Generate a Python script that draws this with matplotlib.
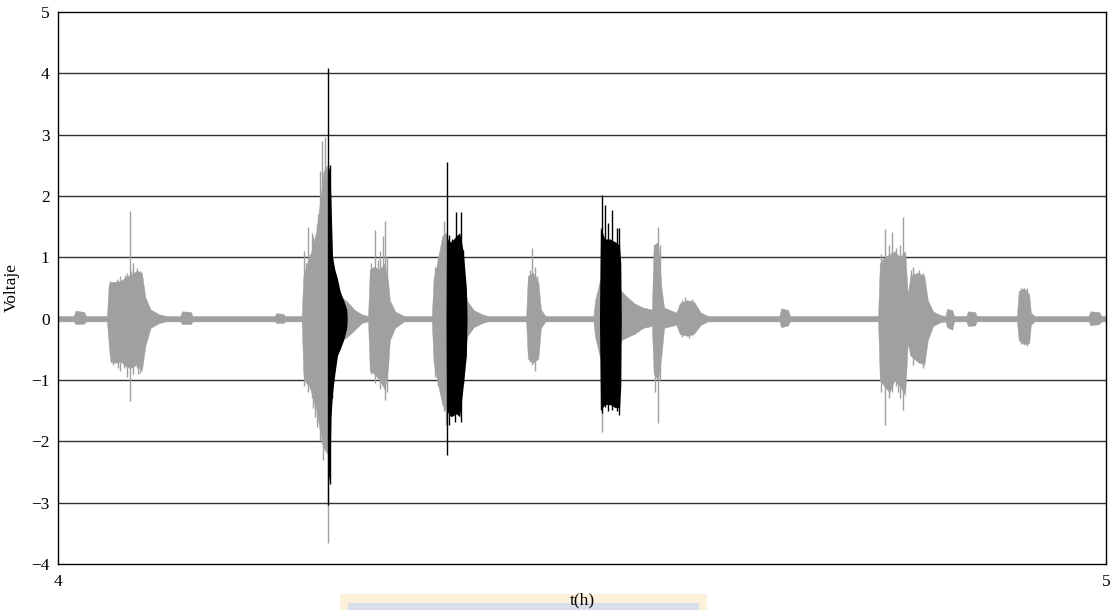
import matplotlib
matplotlib.use("Agg")
import matplotlib.pyplot as plt
import numpy as np
from matplotlib.patches import Rectangle

# Signal envelope, minutes after 4 h: (time, upper, lower) in volts
grey_min = [0.0, 0.9, 1.0, 1.5, 1.6, 2.8, 2.9, 3.0, 3.3, 3.6, 3.9, 4.2, 4.5, 4.8, 5.0, 5.3, 5.8, 6.2,
            7.0, 7.1, 7.6, 7.7, 12.4, 12.5, 12.9, 13.0, 13.95, 14.05, 14.2, 14.4, 14.6, 14.8, 15.0,
            15.2, 15.4, 15.6, 16.0, 16.55, 17.0, 17.4, 17.75, 17.85, 18.1, 18.4, 18.7, 18.9, 19.0,
            19.3, 19.8, 21.4, 21.5, 21.7, 22.0, 22.2, 22.8, 23.45, 23.8, 24.3, 24.6, 26.8, 26.9,
            27.2, 27.5, 27.65, 27.9, 30.65, 30.75, 31.0, 31.5, 32.25, 32.6, 33.0, 33.5, 34.0, 34.1,
            34.35, 34.55, 34.7, 35.4, 35.6, 36.0, 36.4, 36.8, 37.2, 41.3, 41.4, 41.8, 41.9, 46.95,
            47.05, 47.3, 47.6, 47.9, 48.2, 48.5, 48.65, 48.8, 49.2, 49.6, 49.8, 50.1, 50.5, 50.8,
            50.9, 51.2, 51.3, 52.0, 52.1, 52.5, 52.6, 54.9, 55.0, 55.3, 55.6, 55.7, 55.9, 59.0,
            59.1, 59.6, 59.75, 60.0]
grey_hi = [0.045, 0.045, 0.13, 0.11, 0.045, 0.045, 0.55, 0.6, 0.6, 0.62, 0.68, 0.72, 0.78, 0.75, 0.35,
           0.15, 0.07, 0.045, 0.045, 0.12, 0.11, 0.045, 0.045, 0.09, 0.08, 0.045, 0.045, 0.7, 0.85,
           1.0, 1.2, 1.45, 1.9, 2.4, 2.5, 0.8, 0.4, 0.28, 0.14, 0.07, 0.045, 0.8, 0.85, 0.8, 0.9,
           0.6, 0.3, 0.12, 0.045, 0.045, 0.65, 0.9, 1.35, 1.4, 1.0, 0.28, 0.14, 0.07, 0.045, 0.045,
           0.7, 0.75, 0.6, 0.15, 0.045, 0.045, 0.3, 0.6, 0.9, 0.45, 0.35, 0.25, 0.18, 0.15, 1.2,
           1.25, 0.5, 0.18, 0.1, 0.25, 0.3, 0.28, 0.1, 0.045, 0.045, 0.17, 0.14, 0.045, 0.045, 0.9,
           1.0, 1.05, 1.1, 1.0, 1.1, 0.4, 0.7, 0.75, 0.7, 0.3, 0.12, 0.06, 0.045, 0.16, 0.14,
           0.045, 0.045, 0.12, 0.11, 0.045, 0.045, 0.45, 0.5, 0.4, 0.1, 0.045, 0.045, 0.12, 0.11,
           0.045, 0.045]
grey_lo = [-0.045, -0.045, -0.09, -0.08, -0.045, -0.045, -0.4, -0.7, -0.72, -0.7, -0.78, -0.8, -0.75,
           -0.85, -0.45, -0.15, -0.07, -0.045, -0.045, -0.09, -0.09, -0.045, -0.045, -0.07, -0.07,
           -0.045, -0.045, -0.9, -1.05, -1.1, -1.3, -1.5, -1.85, -2.1, -2.2, -0.9, -0.4, -0.3,
           -0.18, -0.07, -0.045, -0.85, -0.9, -1.0, -1.15, -0.8, -0.35, -0.15, -0.045, -0.045,
           -0.7, -1.0, -1.4, -1.5, -1.2, -0.28, -0.14, -0.07, -0.045, -0.045, -0.65, -0.72, -0.65,
           -0.15, -0.045, -0.045, -0.3, -0.6, -0.9, -0.35, -0.3, -0.25, -0.15, -0.12, -0.9, -1.0,
           -0.6, -0.15, -0.1, -0.25, -0.28, -0.25, -0.1, -0.045, -0.045, -0.14, -0.11, -0.045,
           -0.045, -1.0, -1.1, -1.2, -1.0, -1.1, -1.25, -0.4, -0.6, -0.7, -0.75, -0.35, -0.12,
           -0.06, -0.045, -0.14, -0.18, -0.045, -0.045, -0.12, -0.11, -0.045, -0.045, -0.35, -0.42,
           -0.4, -0.1, -0.045, -0.045, -0.11, -0.09, -0.045, -0.045]

# Isolated peaks of the grey trace
grey_peak_min = [2.95, 3.0, 3.1, 3.15, 3.25, 3.35, 3.45, 3.55, 3.65, 3.75, 3.85, 3.95, 4.05, 4.12,
                 4.2, 4.3, 4.4, 4.5, 4.6, 4.7, 4.8,
                 14.1, 14.2, 14.3, 14.45, 14.55, 14.6, 14.7, 14.8, 14.9, 15.0, 15.1, 15.2, 15.3,
                 15.45,
                 17.9, 18.0, 18.15, 18.3, 18.45, 18.6, 18.72, 18.85,
                 21.6, 21.75, 21.9, 22.1, 22.2,
                 27.0, 27.14, 27.3, 27.45, 31.12, 34.2, 34.33, 34.45,
                 35.7, 35.9, 36.1, 36.3,
                 47.1, 47.2, 47.35, 47.45, 47.55, 47.65, 47.75, 47.85, 48.0, 48.1, 48.2, 48.3,
                 48.38, 48.85, 48.95, 49.1, 49.3, 49.45, 49.55,
                 55.15, 55.45]
grey_peak_hi = [0.6, 0.62, 0.5, 0.55, 0.6, 0.65, 0.55, 0.7, 0.6, 0.62, 0.72, 0.75, 0.65, 1.75,
                0.78, 0.9, 0.7, 0.82, 0.68, 0.78, 0.6,
                1.1, 0.9, 1.5, 1.05, 1.4, 1.35, 1.2, 1.55, 1.7, 2.4, 2.9, 2.2, 2.96,
                0.0,
                0.9, 0.75, 1.44, 0.95, 1.1, 1.35, 1.6, 1.0,
                0.85, 1.0, 1.1, 1.6, 1.2,
                0.8, 1.15, 0.85, 0.7, 0.5, 1.0, 1.5, 1.2,
                0.3, 0.35, 0.28, 0.32,
                1.05, 0.8, 1.47, 1.0, 1.2, 0.9, 1.41, 1.0, 1.15, 0.85, 1.2, 0.9,
                1.66, 0.8, 0.84, 0.65, 0.8, 0.6, 0.75,
                0.5, 0.5]
grey_peak_lo = [-0.6, -0.45, -0.7, -0.75, -0.6, -0.7, -0.8, -0.85, -0.65, -0.8, -0.7, -0.95, -0.8,
                -1.35, -0.75, -0.9, -0.7, -0.8, -0.9, -0.88, -0.7,
                -1.1, -1.0, -1.2, -1.15, -1.3, -1.45, -1.6, -1.77, -1.6, -2.0, -2.05, -2.3, -1.9,
                -3.66,
                -0.9, -0.8, -1.05, -0.9, -1.15, -1.0, -1.33, -1.2,
                -0.95, -1.1, -1.2, -1.5, -1.73,
                -0.7, -0.75, -0.86, -0.6, -1.84, -1.2, -1.7, -1.0,
                -0.3, -0.25, -0.32, -0.27,
                -1.2, -1.0, -1.73, -1.15, -1.3, -1.0, -1.2, -0.95, -1.1, -1.2, -1.3, -1.0,
                -1.49, -0.6, -0.75, -0.6, -0.72, -0.65, -0.8,
                -0.42, -0.45]

# Highlighted (black) events
black_min = [0.0, 15.44, 15.46, 15.57, 15.63, 15.72, 15.85, 16.0, 16.15, 16.35, 16.53, 16.56,
             22.22, 22.25, 22.5, 22.8, 23.0, 23.2, 23.38, 23.42,
             31.0, 31.05, 31.3, 31.6, 31.9, 32.15, 32.22, 32.25, 60.0]
black_hi = [0, 0, 2.5, 2.4, 1.9, 1.0, 0.8, 0.65, 0.45, 0.3, 0.15, 0,
            0, 1.3, 1.25, 1.35, 1.4, 1.1, 0.5, 0,
            0, 1.5, 1.3, 1.3, 1.25, 1.2, 0.9, 0, 0]
black_lo = [0, 0, -2.7, -2.5, -1.6, -1.2, -0.9, -0.6, -0.5, -0.35, -0.15, 0,
            0, -1.5, -1.6, -1.55, -1.6, -1.1, -0.6, 0,
            0, -1.5, -1.4, -1.4, -1.45, -1.45, -1.1, 0, 0]

black_peak_min = [15.47, 15.55, 15.7, 22.25, 22.38, 22.55, 22.73, 22.79, 22.95, 23.07, 23.2,
                  31.16, 31.32, 31.5, 31.74, 31.9, 32.02, 32.13]
black_peak_hi = [4.09, 2.5, 1.0, 2.56, 1.36, 1.3, 1.2, 1.74, 1.3, 1.74, 1.12,
                 2.02, 1.85, 1.56, 1.77, 1.25, 1.48, 1.48]
black_peak_lo = [-3.04, -2.7, -1.3, -2.22, -1.73, -1.5, -1.69, -1.5, -1.55, -1.69, -1.06,
                 -1.54, -1.44, -1.5, -1.49, -1.44, -1.5, -1.57]

y_ticks = [-4, -3, -2, -1, 0, 1, 2, 3, 4, 5]
x_ticks = [4, 5]

GREY = "#a0a0a0"


def hours(minutes):
    return 4 + np.asarray(minutes, dtype=float) / 60.0


plt.rcParams["font.family"] = ["Liberation Serif", "DejaVu Serif"]
plt.rcParams["font.size"] = 12.5

fig = plt.figure(figsize=(11.11, 6.10), dpi=100)
ax = fig.add_axes([58 / 1111, 1 - 564 / 610, 1048 / 1111, 552 / 610])

for y in y_ticks[1:-1]:
    ax.axhline(y, color="#303030", lw=1.0, zorder=1)

ax.fill_between(hours(grey_min), grey_lo, grey_hi, color=GREY, lw=0.3, edgecolor=GREY, zorder=2)
ax.vlines(hours(grey_peak_min), grey_peak_lo, grey_peak_hi, color=GREY, lw=1.0, zorder=2)
ax.fill_between(hours(black_min), black_lo, black_hi, color="black", lw=0, zorder=3)
ax.vlines(hours(black_peak_min), black_peak_lo, black_peak_hi, color="black", lw=1.0, zorder=3)

ax.set_xlim(4, 5)
ax.set_ylim(-4, 5)
ax.set_xticks(x_ticks)
ax.set_yticks(y_ticks)
ax.tick_params(length=0, pad=7)
ax.tick_params(axis="y", pad=6)
for s in ax.spines.values():
    s.set_linewidth(1.0)

ax.set_ylabel("Voltaje")
ax.yaxis.set_label_coords(-0.036, 0.5)
ax.set_xlabel("t(h)")
ax.xaxis.set_label_coords(0.5, -0.052)

# light banner under the time label
fig.patches.append(Rectangle((340 / 1111, 0), 367 / 1111, 16 / 610, transform=fig.transFigure,
                             facecolor="#fdf1dc", edgecolor="none", zorder=-2))
fig.patches.append(Rectangle((348 / 1111, 0), 351 / 1111, 7 / 610, transform=fig.transFigure,
                             facecolor="#d8dfe9", edgecolor="none", zorder=-1))

fig.savefig("out.png", dpi=100)
